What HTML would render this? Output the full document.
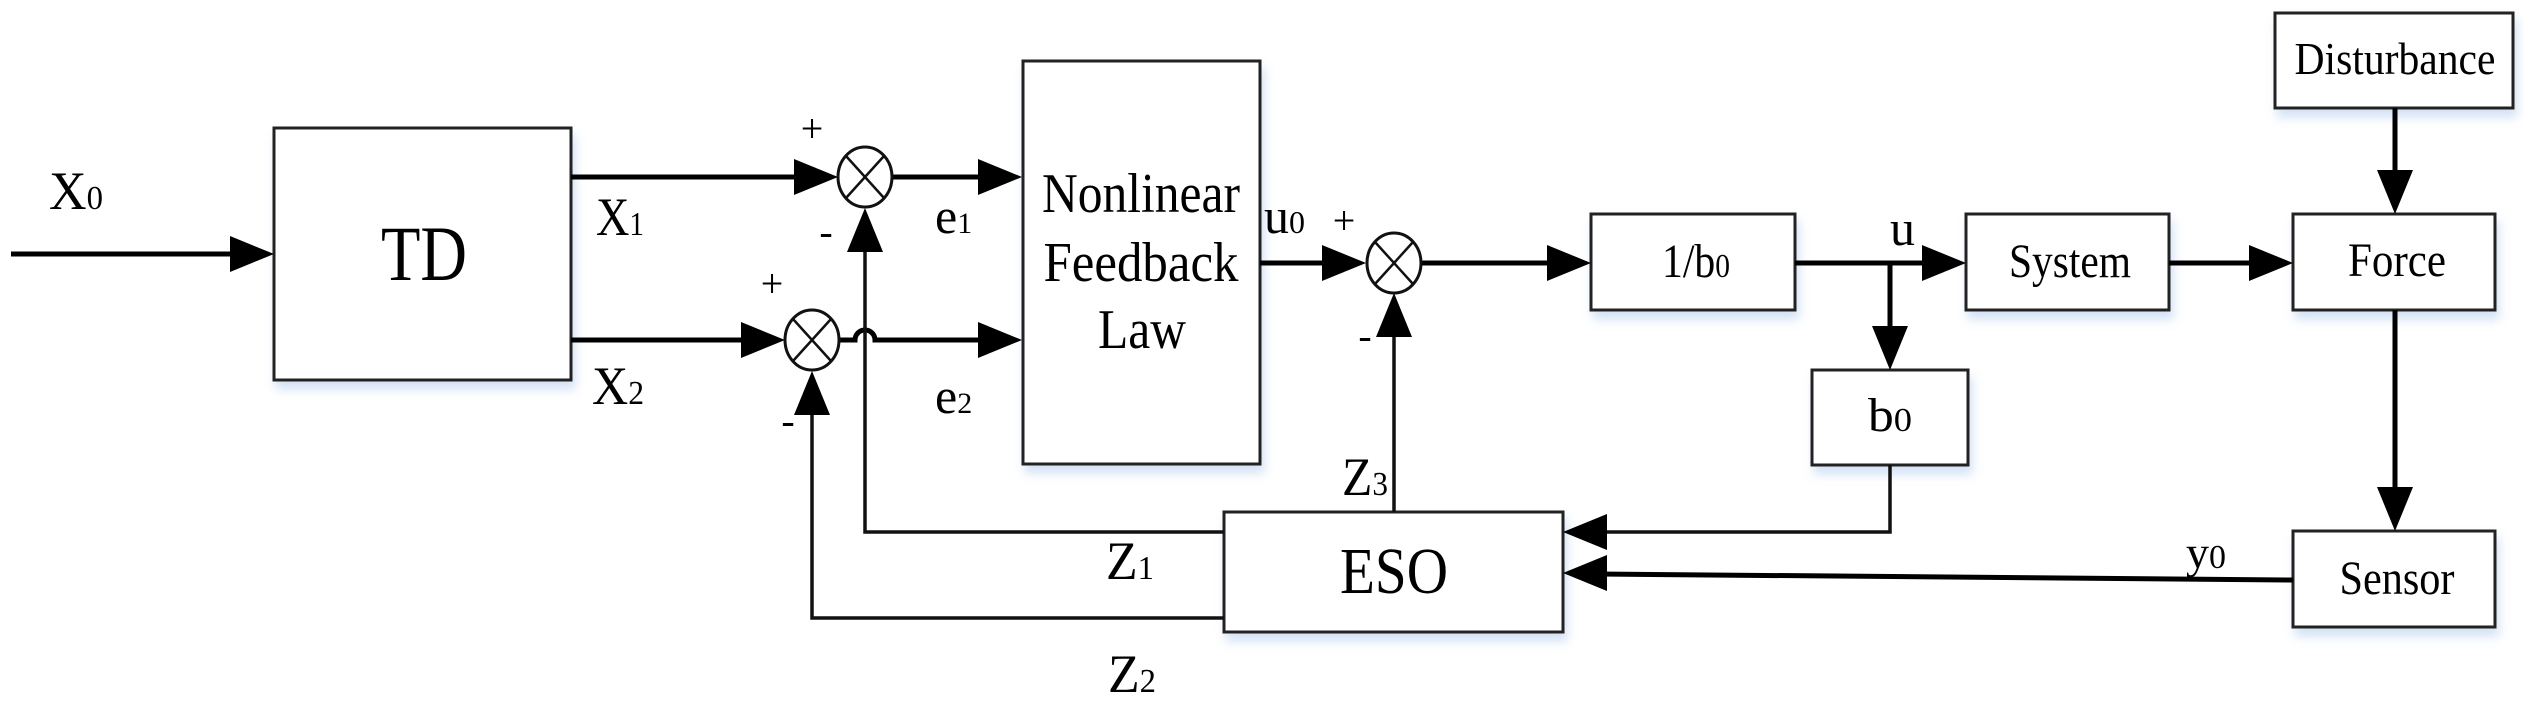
<!DOCTYPE html>
<html><head><meta charset="utf-8"><style>
html,body{margin:0;padding:0;background:#fff;}
svg{display:block;}
text{font-family:"Liberation Serif","Times New Roman","DejaVu Serif",serif;fill:#000;}
</style></head><body>
<svg width="2524" height="707" viewBox="0 0 2524 707" xmlns="http://www.w3.org/2000/svg" font-family="'Liberation Serif','Times New Roman','DejaVu Serif',serif">
<defs>
<filter id="sh" x="-10%" y="-10%" width="130%" height="140%">
<feDropShadow dx="3" dy="8" stdDeviation="5" flood-color="#9fc0ea" flood-opacity="0.45"/>
</filter>
</defs>
<g fill="#fff" stroke="#222" stroke-width="3" filter="url(#sh)">
<rect x="274" y="128" width="297" height="252"/>
<rect x="1023" y="61" width="237" height="403"/>
<rect x="1224" y="512" width="339" height="120"/>
<rect x="1591" y="214" width="204" height="96"/>
<rect x="1966" y="214" width="203" height="96"/>
<rect x="2293" y="214" width="202" height="96"/>
<rect x="2275" y="13" width="238" height="95"/>
<rect x="2293" y="531" width="202" height="96"/>
<rect x="1812" y="370" width="156" height="95"/>
</g>
<g stroke="#000" stroke-width="5" fill="none">
<line x1="11" y1="254" x2="245" y2="254"/>
<line x1="571" y1="177" x2="805" y2="177"/>
<line x1="893" y1="177" x2="990" y2="177"/>
<line x1="571" y1="340" x2="755" y2="340"/>
<path d="M839 340 H855 A10 10 0 0 1 875 340 H990"/>
<line x1="1260" y1="263" x2="1335" y2="263"/>
<line x1="1422" y1="263" x2="1558" y2="263"/>
<line x1="1795" y1="263" x2="1932" y2="263"/>
<line x1="2169" y1="263" x2="2260" y2="263"/>
<line x1="1890" y1="263" x2="1890" y2="335"/>
<line x1="2395" y1="108" x2="2395" y2="180"/>
<line x1="2395" y1="310" x2="2395" y2="497"/>
<line x1="2293" y1="580" x2="1598" y2="574"/>
</g>
<g stroke="#111" stroke-width="3.5" fill="none">
<polyline points="1224,532 865,532 865,245"/>
<polyline points="1224,618 812,618 812,408"/>
<line x1="1394" y1="512" x2="1394" y2="330"/>
<polyline points="1890,465 1890,532 1598,532"/>
</g>
<g fill="#000">
<polygon points="274,254 230,236 230,272"/>
<polygon points="838,177 794,159 794,195"/>
<polygon points="1022,177 978,159 978,195"/>
<polygon points="785,340 741,322 741,358"/>
<polygon points="1022,340 978,322 978,358"/>
<polygon points="1366,263 1322,245 1322,281"/>
<polygon points="1591,263 1547,245 1547,281"/>
<polygon points="1966,263 1922,245 1922,281"/>
<polygon points="2293,263 2249,245 2249,281"/>
<polygon points="1890,370 1872,326 1908,326"/>
<polygon points="2395,214 2377,170 2413,170"/>
<polygon points="2395,531 2377,487 2413,487"/>
<polygon points="865,208 847,252 883,252"/>
<polygon points="812,371 794,415 830,415"/>
<polygon points="1394,293 1376,337 1412,337"/>
<polygon points="1563,532 1607,514 1607,550"/>
<polygon points="1563,573 1607,555 1607,591"/>
</g>
<g stroke="#111" stroke-width="3" fill="#fff">
<ellipse cx="865" cy="177" rx="27" ry="30"/>
<ellipse cx="812" cy="340" rx="27" ry="30"/>
<ellipse cx="1394" cy="263" rx="27" ry="30"/>
</g>
<g stroke="#111" stroke-width="2.5">
<line x1="846" y1="156" x2="884" y2="198"/><line x1="884" y1="156" x2="846" y2="198"/>
<line x1="793" y1="319" x2="831" y2="361"/><line x1="831" y1="319" x2="793" y2="361"/>
<line x1="1375" y1="242" x2="1413" y2="284"/><line x1="1413" y1="242" x2="1375" y2="284"/>
</g>
<text x="424" y="280" font-size="78" text-anchor="middle" textLength="86" lengthAdjust="spacingAndGlyphs">TD</text>
<text x="1141" y="212" font-size="56" text-anchor="middle" textLength="198" lengthAdjust="spacingAndGlyphs">Nonlinear</text>
<text x="1141" y="281" font-size="56" text-anchor="middle" textLength="195" lengthAdjust="spacingAndGlyphs">Feedback</text>
<text x="1142" y="348" font-size="56" text-anchor="middle" textLength="88" lengthAdjust="spacingAndGlyphs">Law</text>
<text x="1394" y="593" font-size="66" text-anchor="middle" textLength="108" lengthAdjust="spacingAndGlyphs">ESO</text>
<text x="1696" y="277" font-size="48" text-anchor="middle" textLength="68" lengthAdjust="spacingAndGlyphs">1/b<tspan font-size="34">0</tspan></text>
<text x="2070" y="277" font-size="48" text-anchor="middle" textLength="122" lengthAdjust="spacingAndGlyphs">System</text>
<text x="2397" y="276" font-size="48" text-anchor="middle" textLength="98" lengthAdjust="spacingAndGlyphs">Force</text>
<text x="2395" y="74" font-size="46" text-anchor="middle" textLength="201" lengthAdjust="spacingAndGlyphs">Disturbance</text>
<text x="2397" y="594" font-size="48" text-anchor="middle" textLength="115" lengthAdjust="spacingAndGlyphs">Sensor</text>
<text x="1890" y="431" font-size="48" text-anchor="middle" textLength="44" lengthAdjust="spacingAndGlyphs">b<tspan font-size="34">0</tspan></text>
<g font-size="54">
<text x="49" y="209" textLength="54" lengthAdjust="spacingAndGlyphs">X<tspan font-size="34">0</tspan></text>
<text x="596" y="235" textLength="48" lengthAdjust="spacingAndGlyphs">X<tspan font-size="34">1</tspan></text>
<text x="592" y="404" textLength="52" lengthAdjust="spacingAndGlyphs">X<tspan font-size="34">2</tspan></text>
<text x="935" y="233" font-size="50">e<tspan font-size="30">1</tspan></text>
<text x="935" y="413" font-size="50">e<tspan font-size="30">2</tspan></text>
<text x="1106" y="579" textLength="48" lengthAdjust="spacingAndGlyphs">Z<tspan font-size="34">1</tspan></text>
<text x="1108" y="692" textLength="48" lengthAdjust="spacingAndGlyphs">Z<tspan font-size="34">2</tspan></text>
<text x="1342" y="495" textLength="46" lengthAdjust="spacingAndGlyphs">Z<tspan font-size="34">3</tspan></text>
<text x="1264" y="233" font-size="50">u<tspan font-size="32">0</tspan></text>
<text x="1890" y="245" font-size="50">u</text>
<text x="2186" y="568" font-size="46">y<tspan font-size="34">0</tspan></text>
</g>
<g font-size="40">
<text x="812" y="142" text-anchor="middle">+</text>
<text x="772" y="297" text-anchor="middle">+</text>
<text x="1344" y="234" text-anchor="middle">+</text>
<text x="826" y="245" text-anchor="middle">-</text>
<text x="788" y="434" text-anchor="middle">-</text>
<text x="1365" y="349" text-anchor="middle">-</text>
</g>
</svg>
</body></html>
